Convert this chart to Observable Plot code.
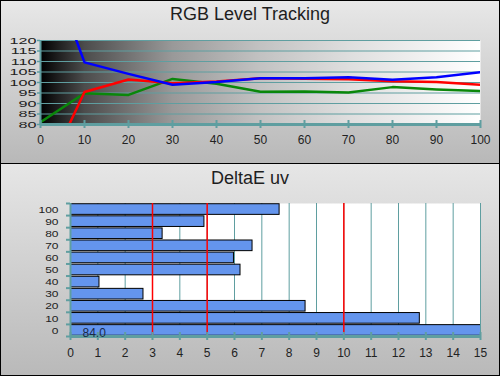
<!DOCTYPE html>
<html>
<head>
<meta charset="utf-8">
<script src="https://cdn.jsdelivr.net/npm/d3@7"></script>
<script src="https://cdn.jsdelivr.net/npm/@observablehq/plot@0.6"></script>
<style>
body { margin: 0; background: #fff; }
#wrap { position: relative; width: 500px; height: 376px; overflow: hidden; font-family: "Liberation Sans", Arial, sans-serif; }
.panel { position: absolute; left: 0; width: 500px; overflow: hidden; }
#p1 { top: 0; height: 163px; background: linear-gradient(#e8e8e8, #b8b8b8); }
#p2 { top: 164px; height: 212px; background: linear-gradient(#e6e6e6, #b9b9b9); }
.title { position: absolute; left: 0; width: 500px; text-align: center; font-size: 18px; line-height: 21px; color: #1e1e1e; }
#divider { position: absolute; left: 0; top: 163px; width: 500px; height: 1px; background: #000; }
#border { position: absolute; left: 0; top: 0; width: 500px; height: 376px; box-sizing: border-box; border: 1px solid #000; pointer-events: none; }
.panel svg { position: absolute; left: 0; top: 0; }
</style>
</head>
<body>
<div id="wrap">
  <div class="panel" id="p1"><div class="title" style="top:4px">RGB Level Tracking</div></div>
  <div id="divider"></div>
  <div class="panel" id="p2"><div class="title" style="top:4px">DeltaE uv</div></div>
  <div id="border"></div>
</div>
<script>
// ---- RGB Level Tracking data ----
const levels = [0, 10, 20, 30, 40, 50, 60, 70, 80, 90, 100];
const redLevels = [51, 95.5, 101.4, 99.6, 100.5, 102, 101.8, 101.6, 100.6, 100.2, 98.9];
const greenLevels = [81.1, 94.9, 94.1, 101.7, 99.4, 95.6, 95.7, 95.2, 97.8, 96.7, 95.9];
const blueLevels = [166, 109.6, 104.1, 98.9, 100.2, 102, 102, 102.5, 101.3, 102.5, 104.9];
const levelYTicks = [80, 85, 90, 95, 100, 105, 110, 115, 120];
const levelXTicks = [0, 10, 20, 30, 40, 50, 60, 70, 80, 90, 100];

// ---- DeltaE uv data ----
const deCategories = ["100", "90", "80", "70", "60", "50", "40", "30", "20", "10", "0"];
const deValues = [7.65, 4.9, 3.37, 6.66, 5.98, 6.22, 1.06, 2.67, 8.6, 12.78, 84.0];
const deXTicks = [0, 1, 2, 3, 4, 5, 6, 7, 8, 9, 10, 11, 12, 13, 14, 15];
const deThresholds = [3, 5, 10];

const teal = "#5F9EA0";
const font = "'Liberation Sans', Arial, sans-serif";

function squash(svg, label, sx, sy) {
  svg.querySelectorAll(`g[aria-label="${label}"] text`).forEach(t => {
    const tr = t.getAttribute("transform");
    if (tr) t.setAttribute("transform", tr + ` scale(${sx},${sy})`);
    else {
      const x = t.getAttribute("x") || 0, y = t.getAttribute("y") || 0;
      t.removeAttribute("x"); t.removeAttribute("y");
      t.setAttribute("transform", `translate(${x},${y}) scale(${sx},${sy})`);
    }
  });
}

// ---- top chart ----
const rows = levels.map((l, i) => ({l, r: redLevels[i], g: greenLevels[i], b: blueLevels[i]}));
const topChart = Plot.plot({
  width: 500, height: 163,
  marginLeft: 40, marginRight: 20, marginTop: 40, marginBottom: 39,
  style: {background: "transparent", fontFamily: font, color: "#222", overflow: "visible"},
  x: {domain: [0, 100], label: null},
  y: {domain: [80, 120], label: null},
  marks: [
    Plot.frame({fill: "url(#bwgrad)", stroke: null}),
    Plot.gridY(levelYTicks, {stroke: teal, strokeOpacity: 1, strokeWidth: 1}),
    Plot.line(rows, {x: "l", y: "g", stroke: "#0a870a", strokeWidth: 2.5, clip: true}),
    Plot.line(rows, {x: "l", y: "r", stroke: "#ff0000", strokeWidth: 2.5, clip: true}),
    Plot.line(rows, {x: "l", y: "b", stroke: "#0000ff", strokeWidth: 2.5, clip: true}),
    Plot.ruleX([0], {stroke: teal, strokeWidth: 2}),
    Plot.ruleY([80], {stroke: teal, strokeWidth: 3}),
    Plot.axisY({ticks: levelYTicks, tickSize: 3, tickPadding: 1, stroke: teal, strokeWidth: 1.5, fill: "#222", fontSize: 15}),
    Plot.axisX({ticks: levelXTicks, tickSize: 8, dy: -4, tickPadding: 7, stroke: teal, strokeWidth: 2, fill: "#222", fontSize: 12})
  ]
});
d3.select(topChart).insert("defs", ":first-child").html(
  `<linearGradient id="bwgrad" x1="0" x2="1" y1="0" y2="0">
     <stop offset="0" stop-color="#000"/>
     <stop offset="0.1" stop-color="#4c4c4c"/>
     <stop offset="0.3" stop-color="#999"/>
     <stop offset="0.5" stop-color="#c2c2c2"/>
     <stop offset="0.7" stop-color="#dedede"/>
     <stop offset="1" stop-color="#fff"/>
   </linearGradient>`);
squash(topChart, "y-axis tick label", 1.08, 0.65);
document.getElementById("p1").appendChild(topChart);

// ---- bottom chart ----
const deRows = deCategories.map((c, i) => ({c, v: deValues[i]}));
const half = 133 / 11 / 2;
const bottomChart = Plot.plot({
  width: 500, height: 212,
  marginLeft: 70, marginRight: 20, marginTop: 39, marginBottom: 40,
  style: {background: "transparent", fontFamily: font, color: "#222", overflow: "visible"},
  x: {domain: [0, 15], label: null},
  y: {type: "band", domain: deCategories, paddingInner: 0.12, paddingOuter: 0.06, round: false, label: null},
  marks: [
    Plot.frame({fill: "white", stroke: null}),
    Plot.gridX(deXTicks, {stroke: teal, strokeOpacity: 1, strokeWidth: 1}),
    Plot.barX(deRows, {x: "v", y: "c", fill: "#6495ED", stroke: "#000", strokeWidth: 1, clip: true}),
    Plot.ruleX(deThresholds, {stroke: "#ff0000", strokeWidth: 1.5}),
    Plot.ruleX([0], {stroke: teal, strokeWidth: 2}),
    Plot.tickY(["0"], {dy: half, stroke: teal, strokeWidth: 3}),
    Plot.axisY({tickSize: 0, tickPadding: 12, fill: "#222", fontSize: 12}),
    Plot.axisY(deCategories, {tickSize: 4, dy: -half, tickFormat: () => "", stroke: teal, strokeWidth: 2}),
    Plot.axisY(["0"], {tickSize: 4, dy: half, tickFormat: () => "", stroke: teal, strokeWidth: 2}),
    Plot.axisX({ticks: deXTicks, tickSize: 8, dy: -4, tickPadding: 8, stroke: teal, strokeWidth: 2, fill: "#222", fontSize: 12}),
    Plot.text(deRows.filter(d => d.v > 15), {x: 0, y: "c", text: d => d.v.toFixed(1), dx: 12, dy: 3, textAnchor: "start", fill: "#1a2a48", fontSize: 12})
  ]
});
squash(bottomChart, "y-axis tick label", 1.0, 0.82);
document.getElementById("p2").appendChild(bottomChart);
</script>
</body>
</html>
